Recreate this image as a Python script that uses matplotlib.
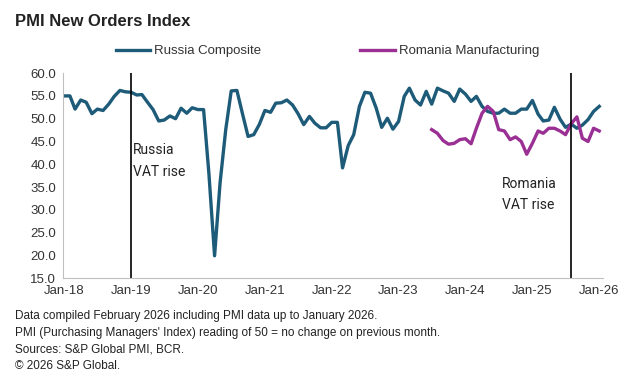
import numpy as np
import pandas as pd
import matplotlib.pyplot as plt
import matplotlib.dates as mdates

# monthly readings, Jan-2018 .. Jan-2026
russia = [55.0, 55.0, 52.1, 54.1, 53.6, 51.1, 52.1, 51.8, 53.2, 54.9, 56.2, 55.9,
          55.8, 55.2, 55.3, 53.6, 52.0, 49.5, 49.7, 50.6, 50.0, 52.3, 51.2, 52.4,
          52.0, 52.0, 38.0, 19.9, 35.9, 47.6, 56.1, 56.2, 51.0, 46.1, 46.5, 48.7,
          51.8, 51.4, 53.4, 53.5, 54.1, 53.0, 51.1, 48.7, 50.5, 49.0, 48.0, 48.0,
          49.2, 49.2, 39.2, 44.1, 46.5, 52.7, 55.8, 55.6, 52.3, 48.1, 50.1, 47.7,
          49.4, 54.9, 56.7, 54.1, 53.0, 56.0, 53.2, 56.7, 56.1, 55.6, 53.8, 56.5,
          55.4, 53.8, 54.9, 52.7, 51.6, 51.2, 51.2, 52.1, 51.2, 51.2, 52.1, 52.1,
          54.0, 51.0, 49.5, 49.7, 52.5, 49.9, 48.1, 48.8, 47.9, 48.6, 49.8, 51.6,
          52.7]
# Jul-2023 .. Jan-2026
romania = [47.6, 46.8, 45.2, 44.4, 44.6, 45.4,
           45.6, 44.5, 47.9, 51.2, 52.7, 51.6, 47.6, 47.3, 45.4, 46.0, 45.0, 42.2,
           44.6, 47.3, 46.8, 47.9, 47.9, 47.3, 46.5, 48.9, 50.4, 45.7, 45.0, 47.9,
           47.3]

months_ru = pd.date_range('2018-01-01', periods=len(russia), freq='MS')
months_ro = pd.date_range('2023-07-01', periods=len(romania), freq='MS')

vat_ru = pd.Timestamp('2019-01-01')
vat_ro = pd.Timestamp('2025-08-01')

yticks = np.arange(15, 61, 5)

plt.rcParams['font.family'] = ['Liberation Sans', 'DejaVu Sans']

fig = plt.figure(figsize=(6.38, 3.89), dpi=100)
ax = fig.add_axes([0.0987, 0.285, 0.846, 0.527])

ax.plot(months_ru, russia, color='#1d5b79', lw=2.4, solid_joinstyle='round',
        label='Russia Composite')
ax.plot(months_ro, romania, color='#9a2f94', lw=2.4, solid_joinstyle='round',
        label='Romania Manufacturing')

ax.axvline(vat_ru, color='black', lw=1.2)
ax.axvline(vat_ro, color='black', lw=1.2)

ax.text(vat_ru + pd.Timedelta(days=12), 40.7, 'Russia\nVAT rise', fontsize=10,
        family=['Roboto', 'DejaVu Sans'], color='#222222', va='center',
        linespacing=1.65)
ax.text(pd.Timestamp('2024-07-20'), 33.4, 'Romania\nVAT rise', fontsize=10,
        family=['Roboto', 'DejaVu Sans'], color='#222222', va='center',
        linespacing=1.65)

ax.set_ylim(15, 60)
ax.set_yticks(yticks)
ax.set_yticklabels([f'{v:.1f}' for v in yticks])
ax.set_xlim(pd.Timestamp('2017-12-25'), pd.Timestamp('2026-01-20'))
ax.xaxis.set_major_locator(mdates.YearLocator())
ax.xaxis.set_major_formatter(mdates.DateFormatter('%b-%y'))

for s in ['top', 'right']:
    ax.spines[s].set_visible(False)
for s in ['left', 'bottom']:
    ax.spines[s].set_color('#bfbfbf')
    ax.spines[s].set_linewidth(0.8)
ax.tick_params(length=0, labelsize=9.5, colors='#333333', pad=5)

ax.legend(loc='lower center', bbox_to_anchor=(0.49, 1.02), ncol=2, frameon=False,
          fontsize=9.5, handlelength=2.6, handletextpad=0.3, columnspacing=7.5,
          labelcolor='#333333')

fig.text(0.023, 0.945, 'PMI New Orders Index', fontsize=12, fontweight='bold',
         color='#222222', va='center')

notes = ['Data compiled February 2026 including PMI data up to January 2026.',
         "PMI (Purchasing Managers' Index) reading of 50 = no change on previous month.",
         'Sources: S&P Global PMI, BCR.',
         '\u00a9 2026 S&P Global.']
for i, line in enumerate(notes):
    fig.text(0.023, 1 - (316 + i * 16.7) / 389, line, fontsize=8.5, color='#222222',
             va='center')

fig.savefig('out.png', dpi=100)
